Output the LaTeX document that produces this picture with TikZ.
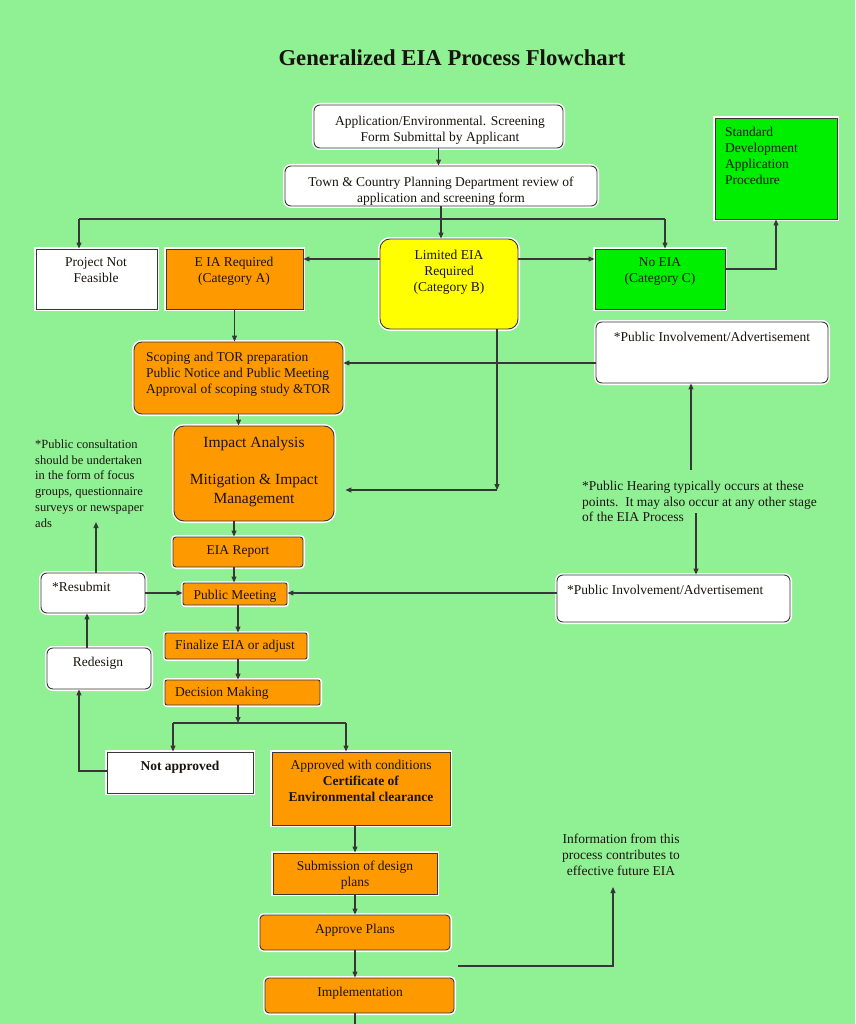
\documentclass[tikz,border=0pt]{standalone}
\usepackage{fontspec}
\setmainfont{Liberation Serif}
\usetikzlibrary{arrows.meta}
\definecolor{bg}{RGB}{144,240,148}
\definecolor{orng}{RGB}{255,153,0}
\definecolor{grn}{RGB}{0,238,0}
\definecolor{ylw}{RGB}{255,255,0}
\definecolor{edgec}{RGB}{55,55,55}
\definecolor{inkc}{RGB}{25,20,15}
\begin{document}
\begin{tikzpicture}[x=1pt,y=-1pt,
  bx/.style={draw=edgec, line width=0.9pt, inner sep=0pt, preaction={draw=white,line width=4pt}},
  rnd/.style={rounded corners=6pt},
  txt/.style={inner sep=0pt, font=\fontsize{13.5}{16}\selectfont, text=inkc},
  con/.style={draw=edgec, line width=1.1pt},
  arr/.style={con, -{Triangle[length=6pt,width=5pt]}}
]
\useasboundingbox (0,0) rectangle (855,1024);
\fill[bg] (0,0) rectangle (855,1024);

% title
\node[txt, font=\fontsize{22.7}{26}\selectfont\bfseries] (title) at (452,58) {Generalized EIA Process Flowchart};

% boxes
\node[bx, rnd, fill=white, minimum width=249pt, minimum height=43pt] (app) at (438.5,126.5) {};
\node[bx, rnd, fill=white, minimum width=312pt, minimum height=40pt] (town) at (441,186) {};
\node[bx, fill=grn, minimum width=122pt, minimum height=101pt] (std) at (776,168.5) {};
\node[bx, fill=white, minimum width=121pt, minimum height=60pt] (pnf) at (96.5,279) {};
\node[bx, fill=orng, minimum width=137pt, minimum height=60pt] (eiaA) at (234.5,279) {};
\node[bx, rounded corners=10pt, fill=ylw, minimum width=138pt, minimum height=90pt] (limB) at (449,284) {};
\node[bx, fill=grn, minimum width=130pt, minimum height=60pt] (noC) at (660,279) {};
\node[bx, rounded corners=8pt, fill=orng, minimum width=209pt, minimum height=72pt] (scop) at (238.5,378) {};
\node[bx, rnd, fill=white, minimum width=232pt, minimum height=61pt] (pi1) at (712,352.5) {};
\node[bx, rounded corners=10pt, fill=orng, minimum width=160pt, minimum height=95pt] (imp) at (254,473.5) {};
\node[bx, rounded corners=3pt, fill=orng, minimum width=130pt, minimum height=30pt] (rep) at (238,552) {};
\node[bx, rounded corners=2pt, fill=orng, minimum width=104pt, minimum height=22pt] (pm) at (235,594) {};
\node[bx, rnd, fill=white, minimum width=104pt, minimum height=40pt] (resub) at (93,593) {};
\node[bx, rnd, fill=white, minimum width=233pt, minimum height=47pt] (pi2) at (673.5,598.5) {};
\node[bx, rounded corners=2pt, fill=orng, minimum width=142pt, minimum height=26pt] (fin) at (236,646) {};
\node[bx, rounded corners=2pt, fill=orng, minimum width=155pt, minimum height=25pt] (dec) at (242.5,692.5) {};
\node[bx, fill=white, minimum width=146pt, minimum height=41pt] (notap) at (180,772.5) {};
\node[bx, fill=orng, minimum width=178pt, minimum height=73pt] (appr) at (361,788.5) {};
\node[bx, rnd, fill=white, minimum width=104pt, minimum height=41pt] (redes) at (99,668.5) {};
\node[bx, fill=orng, minimum width=164pt, minimum height=41pt] (sub) at (355,873.5) {};
\node[bx, rounded corners=4pt, fill=orng, minimum width=190pt, minimum height=35pt] (appl) at (355,932.5) {};
\node[bx, rounded corners=4pt, fill=orng, minimum width=189pt, minimum height=35pt] (impl) at (359.5,995.5) {};

% box texts
\node[txt, anchor=north, align=center] (tapp) at (440,116) {Application/Environmental. Screening\\Form Submittal by Applicant};
\node[txt, anchor=north, align=center] (ttown) at (441,177) {Town \& Country Planning Department review of\\application and screening form};
\node[txt, anchor=north west, align=left] (tstd) at (725,127) {Standard\\Development\\Application\\Procedure};
\node[txt, anchor=north, align=center] (tpnf) at (96,257) {Project Not\\Feasible};
\node[txt, anchor=north, align=center] (teiaA) at (234,257) {E IA Required\\(Category A)};
\node[txt, anchor=north, align=center] (tlimB) at (449,250) {Limited EIA\\Required\\(Category B)};
\node[txt, anchor=north, align=center] (tnoC) at (660,257) {No EIA\\(Category C)};
\node[txt, anchor=north west, align=left] (tscop) at (146,352) {Scoping and TOR preparation\\Public Notice and Public Meeting\\Approval of scoping study \&TOR};
\node[txt] (tpi1) at (712,337) {*Public Involvement/Advertisement};
\node[txt, anchor=north, align=center, font=\fontsize{15.5}{18.5}\selectfont] (timp) at (254,437) {Impact Analysis\\[18.5pt]Mitigation \& Impact\\Management};
\node[txt] (trep) at (238,551) {EIA Report};
\node[txt] (tpm) at (235,596) {Public Meeting};
\node[txt, anchor=west] (tresub) at (52,587) {*Resubmit};
\node[txt, anchor=west] (tpi2) at (567,590) {*Public Involvement/Advertisement};
\node[txt, anchor=west] (tfin) at (175,646) {Finalize EIA or adjust};
\node[txt, anchor=west] (tdec) at (175,693) {Decision Making};
\node[txt, font=\fontsize{13.5}{16}\selectfont\bfseries] (tnotap) at (180,767) {Not approved};
\node[txt, anchor=north, align=center] (tappr) at (361,760) {Approved with conditions\\\textbf{Certificate of}\\\textbf{Environmental clearance}};
\node[txt] (tredes) at (98,663) {Redesign};
\node[txt, anchor=north, align=center] (tsub) at (355,861) {Submission of design\\plans};
\node[txt] (tappl) at (355,930) {Approve Plans};
\node[txt] (timpl) at (360,993) {Implementation};

% notes
\node[txt, anchor=north west, align=left, font=\fontsize{12.5}{15.8}\selectfont] (note1) at (35,439.5) {*Public consultation\\should be undertaken\\in the form of focus\\groups, questionnaire\\surveys or newspaper\\ads};
\node[txt, anchor=north west, align=left, font=\fontsize{13.5}{15.7}\selectfont] (note2) at (582,481) {*Public Hearing typically occurs at these\\points.\ \ It may also occur at any other stage\\of the EIA Process};
\node[txt, anchor=north, align=center] (note3) at (621,834) {Information from this\\process contributes to\\effective future EIA};

% helper coordinates
\coordinate (j1) at (441,219);
\coordinate (jl) at (79,219);
\coordinate (jr) at (665,219);
\coordinate (y259) at (0,259);
\coordinate (y269) at (0,269);
\coordinate (y363) at (0,363);
\coordinate (k1) at (497,490);
\coordinate (x234) at (234,0);
\coordinate (x238) at (238,0);
\coordinate (k2) at (238,723);
\coordinate (k3) at (173,723);
\coordinate (k4) at (346,723);
\coordinate (y771) at (0,771);
\coordinate (x79) at (79,0);
\coordinate (x87) at (87,0);
\coordinate (n1tip) at (96,522);
\coordinate (y593) at (0,593);
\coordinate (n2a) at (691,470);
\coordinate (n2b) at (696,513);
\coordinate (x355) at (355,0);
\coordinate (bot) at (355,1024);
\coordinate (f1) at (458,966);
\coordinate (f2) at (613,887);

% connectors
\draw[arr] (app.south) -- (app.south |- town.north);
\draw[con] (town.south) -- (j1);
\draw[con] (jl) -- (jr);
\draw[arr] (jl) -- (jl |- pnf.north);
\draw[arr] (j1) -- (j1 |- limB.north);
\draw[arr] (jr) -- (jr |- noC.north);
\draw[arr] (limB.west |- y259) -- (eiaA.east |- y259);
\draw[arr] (limB.east |- y259) -- (noC.west |- y259);
\draw[arr] (noC.east |- y269) -| (std.south);
\draw[arr] (eiaA.south) -- (eiaA.south |- scop.north);
\draw[arr] (pi1.west |- y363) -- (scop.east |- y363);
\draw[arr] (limB.south -| k1) -- (k1);
\draw[arr, shorten >=11pt] (k1) -- (imp.east |- k1);
\draw[arr] (scop.south) -- (scop.south |- imp.north);
\draw[arr] (imp.south -| x234) -- (rep.north -| x234);
\draw[arr] (rep.south -| x234) -- (pm.north -| x234);
\draw[arr] (pm.south -| x238) -- (fin.north -| x238);
\draw[arr] (fin.south -| x238) -- (dec.north -| x238);
\draw[arr] (dec.south -| k2) -- (k2);
\draw[con] (k3) -- (k4);
\draw[arr] (k3) -- (k3 |- notap.north);
\draw[arr] (k4) -- (k4 |- appr.north);
\draw[arr] (notap.west |- y771) -| (redes.south -| x79);
\draw[arr] (redes.north -| x87) -- (resub.south -| x87);
\draw[arr] (resub.north -| n1tip) -- (n1tip);
\draw[arr] (resub.east |- y593) -- (pm.west |- y593);
\draw[arr] (pi2.west |- y593) -- (pm.east |- y593);
\draw[arr] (n2a) -- (pi1.south -| n2a);
\draw[arr] (n2b) -- (pi2.north -| n2b);
\draw[arr] (appr.south -| x355) -- (sub.north -| x355);
\draw[arr] (sub.south -| x355) -- (appl.north -| x355);
\draw[arr] (appl.south -| x355) -- (impl.north -| x355);
\draw[con] (impl.south -| bot) -- (bot);
\draw[arr] (f1) -| (f2);
\end{tikzpicture}
\end{document}
